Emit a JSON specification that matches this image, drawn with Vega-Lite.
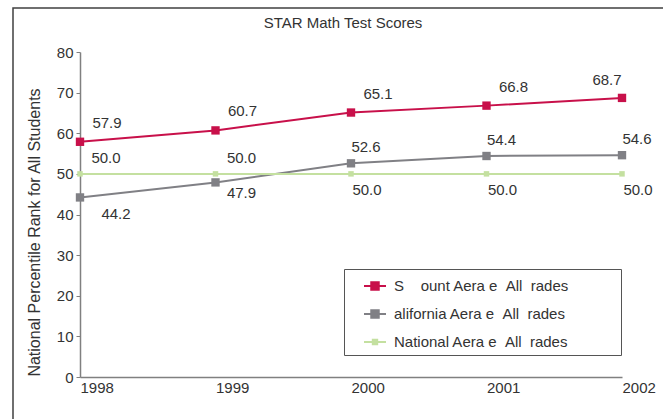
{
  "$schema": "https://vega.github.io/schema/vega-lite/v6.json",
  "width": 660,
  "height": 420,
  "autosize": {"type": "none"},
  "padding": {"left": 13, "top": 8, "right": 0, "bottom": 0},
  "background": "white",
  "config": {"view": {"stroke": "#404040", "strokeWidth": 1.5}, "font": "Liberation Sans"},
  "title": {"text": "STAR Math Test Scores", "fontSize": 15, "fontWeight": "normal", "color": "#333333", "offset": -23, "font": "Liberation Sans"},
  "data": {"values": [
    {"key": "sd", "series": "S\u00a0\u00a0\u00a0\u00a0ount Aera e\u00a0\u00a0All\u00a0\u00a0rades", "year": 1998, "value": 57.9},
    {"key": "sd", "series": "S\u00a0\u00a0\u00a0\u00a0ount Aera e\u00a0\u00a0All\u00a0\u00a0rades", "year": 1999, "value": 60.7},
    {"key": "sd", "series": "S\u00a0\u00a0\u00a0\u00a0ount Aera e\u00a0\u00a0All\u00a0\u00a0rades", "year": 2000, "value": 65.1},
    {"key": "sd", "series": "S\u00a0\u00a0\u00a0\u00a0ount Aera e\u00a0\u00a0All\u00a0\u00a0rades", "year": 2001, "value": 66.8},
    {"key": "sd", "series": "S\u00a0\u00a0\u00a0\u00a0ount Aera e\u00a0\u00a0All\u00a0\u00a0rades", "year": 2002, "value": 68.7},
    {"key": "ca", "series": "\u00a0alifornia Aera e\u00a0\u00a0All\u00a0\u00a0rades", "year": 1998, "value": 44.2},
    {"key": "ca", "series": "\u00a0alifornia Aera e\u00a0\u00a0All\u00a0\u00a0rades", "year": 1999, "value": 47.9},
    {"key": "ca", "series": "\u00a0alifornia Aera e\u00a0\u00a0All\u00a0\u00a0rades", "year": 2000, "value": 52.6},
    {"key": "ca", "series": "\u00a0alifornia Aera e\u00a0\u00a0All\u00a0\u00a0rades", "year": 2001, "value": 54.4},
    {"key": "ca", "series": "\u00a0alifornia Aera e\u00a0\u00a0All\u00a0\u00a0rades", "year": 2002, "value": 54.6},
    {"key": "nat", "series": "National Aera e\u00a0\u00a0All\u00a0\u00a0rades", "year": 1998, "value": 50.0},
    {"key": "nat", "series": "National Aera e\u00a0\u00a0All\u00a0\u00a0rades", "year": 1999, "value": 50.0},
    {"key": "nat", "series": "National Aera e\u00a0\u00a0All\u00a0\u00a0rades", "year": 2000, "value": 50.0},
    {"key": "nat", "series": "National Aera e\u00a0\u00a0All\u00a0\u00a0rades", "year": 2001, "value": 50.0},
    {"key": "nat", "series": "National Aera e\u00a0\u00a0All\u00a0\u00a0rades", "year": 2002, "value": 50.0}
  ]},
  "encoding": {
    "x": {"field": "year", "type": "quantitative",
      "scale": {"domain": [1998, 2002], "range": [67, 609], "nice": false, "zero": false},
      "axis": {"values": [1998, 1999, 2000, 2001, 2002], "format": "d", "title": null, "grid": false, "ticks": false, "offset": -51,
        "labelAlign": "left", "labelDx": -2, "labelBaseline": "top", "labelPadding": 3, "labelFontSize": 15, "labelColor": "#333333",
        "labelFont": "Liberation Sans", "labelFlush": false, "domainColor": "#808080", "domainWidth": 1.5}},
    "y": {"field": "value", "type": "quantitative",
      "scale": {"domain": [0, 80], "range": [369, 44], "nice": false},
      "axis": {"values": [0, 10, 20, 30, 40, 50, 60, 70, 80], "grid": false, "tickSize": 4, "tickColor": "#808080", "offset": -67,
        "domainColor": "#808080", "domainWidth": 1.5, "labelFontSize": 15, "labelColor": "#333333", "labelPadding": 3,
        "labelFont": "Liberation Sans",
        "title": "National Percentile Rank for All Students", "titleFontSize": 16, "titleFontWeight": "normal",
        "titleColor": "#333333", "titleFont": "Liberation Sans", "titleX": -46, "titleY": 224, "titleBaseline": "middle",
        "titleAngle": -90, "titleAlign": "center"}}
  },
  "layer": [
    {
      "mark": {"type": "line", "strokeWidth": 2},
      "encoding": {
        "color": {"field": "series", "type": "nominal",
          "scale": {"domain": ["S\u00a0\u00a0\u00a0\u00a0ount Aera e\u00a0\u00a0All\u00a0\u00a0rades", "\u00a0alifornia Aera e\u00a0\u00a0All\u00a0\u00a0rades", "National Aera e\u00a0\u00a0All\u00a0\u00a0rades"],
            "range": ["#c8104a", "#808085", "#c4e0a0"]},
          "legend": {"orient": "none", "legendX": 331, "legendY": 261, "title": "\u00a0", "titleOrient": "right", "titlePadding": 47,
            "strokeColor": "#555555", "padding": 5, "symbolOffset": 14, "labelOffset": 7, "rowPadding": 8,
            "labelFontSize": 15, "labelColor": "#333333", "labelFont": "Liberation Sans", "labelLimit": 400,
            "symbolSize": 484, "symbolStrokeWidth": 2,
            "encode": {"symbols": {"update": {
              "fill": {"field": "value", "scale": "color"},
              "stroke": {"field": "value", "scale": "color"},
              "strokeWidth": {"value": 2},
              "size": {"value": 484},
              "shape": [{"test": "datum.value === 'National Aera e\u00a0\u00a0All\u00a0\u00a0rades'", "value": "M-1,0H1M-0.2,-0.2H0.2V0.2H-0.2Z"}, {"value": "M-1,0H1M-0.34,-0.34H0.34V0.34H-0.34Z"}]
            }}}}
        }
      }
    },
    {
      "transform": [{"filter": "datum.key !== 'nat'"}],
      "mark": {"type": "square", "size": 70, "filled": true, "opacity": 1},
      "encoding": {"color": {"field": "series", "type": "nominal", "legend": null}}
    },
    {
      "transform": [{"filter": "datum.key === 'nat'"}],
      "mark": {"type": "square", "size": 30, "filled": true, "opacity": 1},
      "encoding": {"color": {"field": "series", "type": "nominal", "legend": null}}
    },
    {
      "transform": [{"filter": "datum.key === 'sd' && datum.year < 2002"}],
      "mark": {"type": "text", "dx": 27, "dy": -19, "fontSize": 15, "color": "#333333", "font": "Liberation Sans"},
      "encoding": {"text": {"field": "value", "type": "quantitative", "format": ".1f"}}
    },
    {
      "transform": [{"filter": "datum.key === 'sd' && datum.year === 2002"}],
      "mark": {"type": "text", "dx": -15, "dy": -18, "fontSize": 15, "color": "#333333", "font": "Liberation Sans"},
      "encoding": {"text": {"field": "value", "type": "quantitative", "format": ".1f"}}
    },
    {
      "transform": [{"filter": "datum.key === 'ca' && datum.year === 1998"}],
      "mark": {"type": "text", "dx": 36, "dy": 17, "fontSize": 15, "color": "#333333", "font": "Liberation Sans"},
      "encoding": {"text": {"field": "value", "type": "quantitative", "format": ".1f"}}
    },
    {
      "transform": [{"filter": "datum.key === 'ca' && datum.year === 1999"}],
      "mark": {"type": "text", "dx": 26, "dy": 11, "fontSize": 15, "color": "#333333", "font": "Liberation Sans"},
      "encoding": {"text": {"field": "value", "type": "quantitative", "format": ".1f"}}
    },
    {
      "transform": [{"filter": "datum.key === 'ca' && datum.year >= 2000"}],
      "mark": {"type": "text", "dx": 15, "dy": -16, "fontSize": 15, "color": "#333333", "font": "Liberation Sans"},
      "encoding": {"text": {"field": "value", "type": "quantitative", "format": ".1f"}}
    },
    {
      "transform": [{"filter": "datum.key === 'nat' && datum.year <= 1999"}],
      "mark": {"type": "text", "dx": 26, "dy": -16, "fontSize": 15, "color": "#333333", "font": "Liberation Sans"},
      "encoding": {"text": {"field": "value", "type": "quantitative", "format": ".1f"}}
    },
    {
      "transform": [{"filter": "datum.key === 'nat' && datum.year >= 2000"}],
      "mark": {"type": "text", "dx": 16, "dy": 16, "fontSize": 15, "color": "#333333", "font": "Liberation Sans"},
      "encoding": {"text": {"field": "value", "type": "quantitative", "format": ".1f"}}
    }
  ]
}
